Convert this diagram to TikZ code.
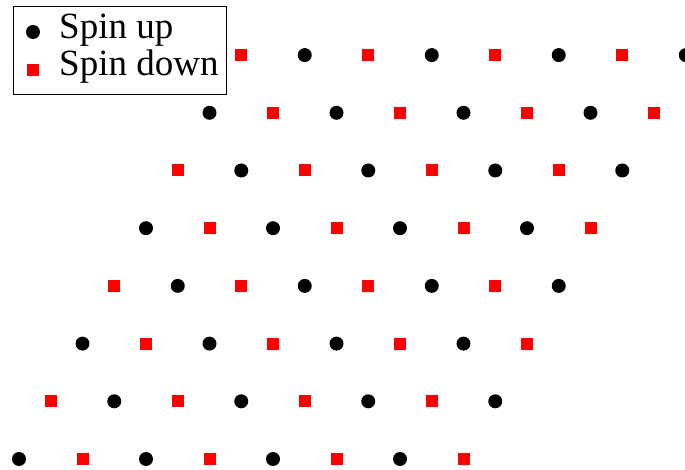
\documentclass[tikz,border=0pt]{standalone}
\usepackage{fontspec}
\setmainfont{Liberation Serif}
\definecolor{spinred}{HTML}{FF0000}
\tikzset{
  upspin/.style={circle, fill=black, inner sep=0pt, minimum size=14pt},
  downspin/.style={rectangle, fill=spinred, inner sep=0pt, minimum size=12pt},
  legendtext/.style={anchor=base west, inner sep=0pt, font=\fontsize{37}{42}\selectfont}
}

\begin{document}
\begin{tikzpicture}[x=1pt, y=-1pt]
    \useasboundingbox (0,0) rectangle (685,470);
    \clip (0,0) rectangle (685,470);
    % lattice, checkerboard of spins
    \foreach \j in {0,...,7} {
      \foreach \i in {0,...,7} {
        \pgfmathtruncatemacro{\parity}{mod(\i+\j,2)}
        \ifnum\parity=0
          \node[upspin] (s-\i-\j) at ({19+31.75*\j+63.5*\i}, {459-57.7*\j}) {};
        \else
          \node[downspin] (s-\i-\j) at ({19+31.75*\j+63.5*\i}, {459-57.7*\j}) {};
        \fi
      }
    }
    % legend
    \draw[fill=white, line width=0.8pt] (13,6) rectangle (226,94);
    \node[upspin] (key-up) at (33,32) {};
    \node[downspin] (key-down) at (33,70) {};
    \node[legendtext] (lbl-up) at (59,39) {Spin up};
    \node[legendtext] (lbl-down) at (59,76) {Spin down};
  \end{tikzpicture}
\end{document}
